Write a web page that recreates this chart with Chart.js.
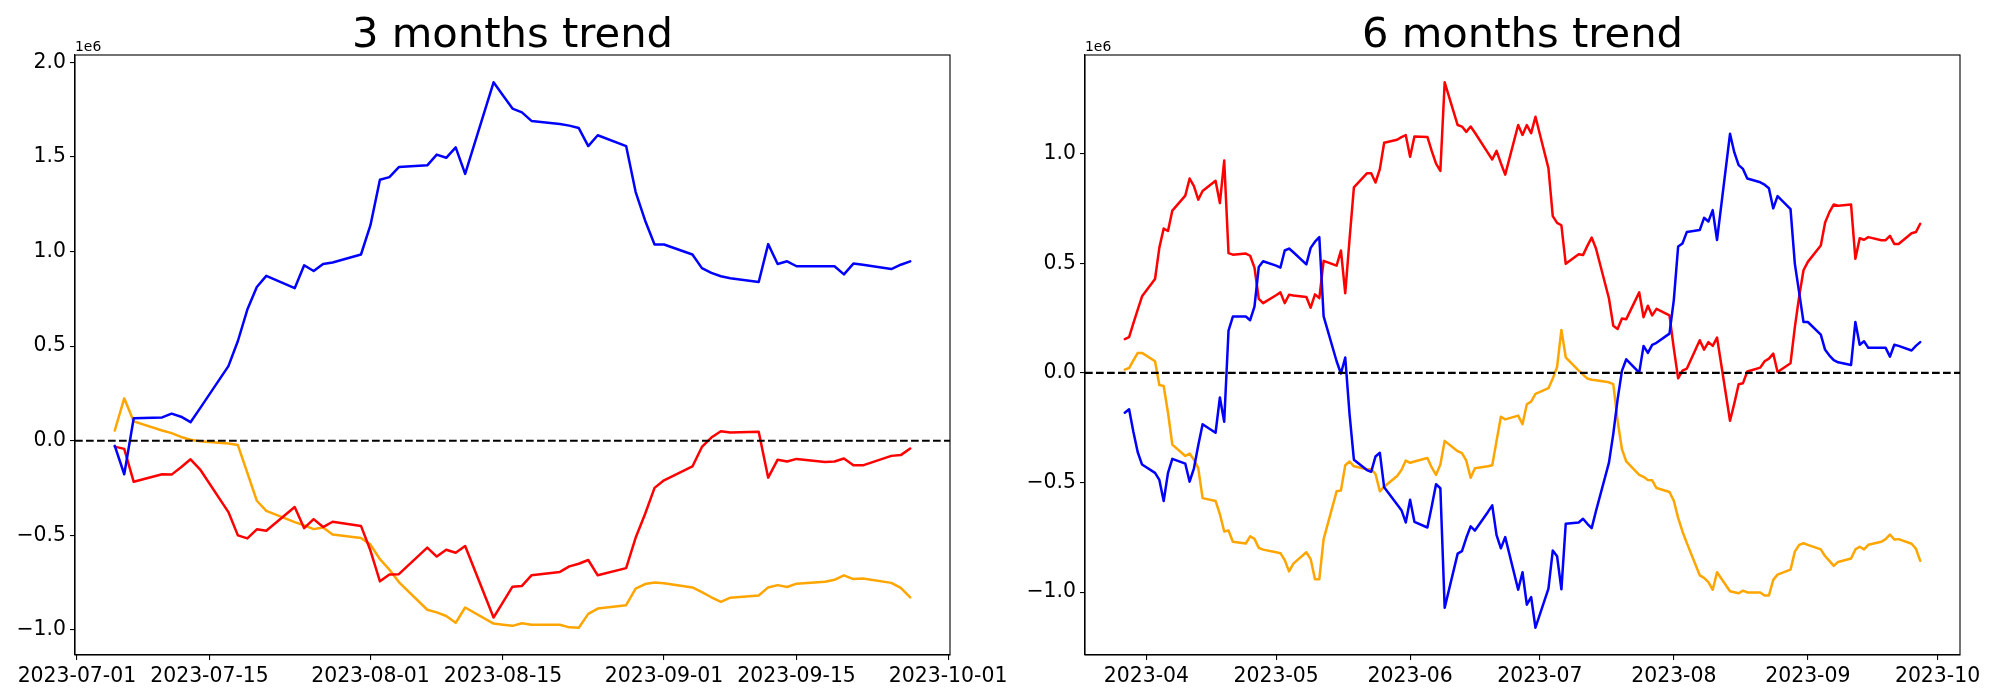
<!DOCTYPE html>
<html>
<head>
<meta charset="utf-8">
<script src="https://cdn.jsdelivr.net/npm/chart.js@4"></script>
<style>
  html, body { margin:0; padding:0; background:#ffffff; width:2000px; height:700px; overflow:hidden; }
  canvas { position:absolute; top:0; }
  #c1 { left:0; }
  #c2 { left:1000px; }
</style>
</head>
<body>
<canvas id="c1" width="1100" height="700"></canvas>
<canvas id="c2" width="1000" height="700"></canvas>
<script>
// ---------------- DATA (values in units of 1e6) ----------------
const leftDates = [
 '2023-07-05','2023-07-06','2023-07-07','2023-07-10','2023-07-11','2023-07-12','2023-07-13','2023-07-14',
 '2023-07-17','2023-07-18','2023-07-19','2023-07-20','2023-07-21','2023-07-24','2023-07-25','2023-07-26',
 '2023-07-27','2023-07-28','2023-07-31',
 '2023-08-01','2023-08-02','2023-08-03','2023-08-04','2023-08-07','2023-08-08','2023-08-09','2023-08-10',
 '2023-08-11','2023-08-14','2023-08-15','2023-08-16','2023-08-17','2023-08-18','2023-08-21','2023-08-22',
 '2023-08-23','2023-08-24','2023-08-25','2023-08-28','2023-08-29','2023-08-30','2023-08-31',
 '2023-09-01','2023-09-04','2023-09-05','2023-09-06','2023-09-07','2023-09-08','2023-09-11','2023-09-12',
 '2023-09-13','2023-09-14','2023-09-15','2023-09-18','2023-09-19','2023-09-20','2023-09-21','2023-09-22',
 '2023-09-25','2023-09-26','2023-09-27'
];
const leftBlue = [
 -0.027,-0.177,0.119,0.123,0.143,0.127,0.098,0.171,0.394,0.527,0.693,0.812,0.871,0.806,0.927,0.897,0.934,0.942,0.984,
 1.139,1.379,1.393,1.446,1.455,1.512,1.495,1.550,1.410,1.894,1.824,1.755,1.735,1.690,1.674,1.665,1.652,1.557,1.614,1.557,1.315,1.164,1.037,
 1.037,0.984,0.912,0.887,0.869,0.859,0.839,1.039,0.934,0.948,0.922,0.922,0.922,0.879,0.936,0.930,0.907,0.930,0.948
];
const leftRed = [
 -0.031,-0.043,-0.217,-0.177,-0.179,-0.140,-0.098,-0.151,-0.377,-0.500,-0.516,-0.468,-0.476,-0.350,-0.462,-0.414,-0.456,-0.428,-0.450,
 -0.580,-0.743,-0.707,-0.705,-0.565,-0.612,-0.576,-0.592,-0.556,-0.934,-0.853,-0.771,-0.767,-0.711,-0.693,-0.664,-0.650,-0.630,-0.711,-0.673,-0.513,-0.387,-0.249,
 -0.209,-0.136,-0.033,0.017,0.050,0.044,0.048,-0.195,-0.100,-0.110,-0.096,-0.112,-0.110,-0.094,-0.130,-0.130,-0.080,-0.076,-0.041
];
const leftOrange = [
 0.054,0.224,0.102,0.054,0.040,0.020,0.005,-0.003,-0.015,-0.023,-0.170,-0.317,-0.371,-0.430,-0.447,-0.467,-0.459,-0.496,-0.514,
 -0.549,-0.626,-0.681,-0.747,-0.893,-0.907,-0.926,-0.962,-0.881,-0.966,-0.972,-0.978,-0.964,-0.972,-0.972,-0.986,-0.988,-0.915,-0.887,-0.869,-0.782,-0.757,-0.749,
 -0.753,-0.775,-0.800,-0.827,-0.851,-0.829,-0.818,-0.775,-0.763,-0.773,-0.755,-0.745,-0.735,-0.711,-0.731,-0.728,-0.751,-0.777,-0.828
];

const rightDates = [
 '2023-03-27','2023-03-28','2023-03-29','2023-03-30','2023-03-31',
 '2023-04-03','2023-04-04','2023-04-05','2023-04-06','2023-04-07','2023-04-10','2023-04-11','2023-04-12','2023-04-13','2023-04-14',
 '2023-04-17','2023-04-18','2023-04-19','2023-04-20','2023-04-21','2023-04-24','2023-04-25','2023-04-26','2023-04-27','2023-04-28',
 '2023-05-01','2023-05-02','2023-05-03','2023-05-04','2023-05-05','2023-05-08','2023-05-09','2023-05-10','2023-05-11','2023-05-12',
 '2023-05-15','2023-05-16','2023-05-17','2023-05-18','2023-05-19','2023-05-22','2023-05-23','2023-05-24','2023-05-25','2023-05-26',
 '2023-05-29','2023-05-30','2023-05-31',
 '2023-06-01','2023-06-02','2023-06-05','2023-06-06','2023-06-07','2023-06-08','2023-06-09','2023-06-12','2023-06-13','2023-06-14',
 '2023-06-15','2023-06-16','2023-06-19','2023-06-20','2023-06-21','2023-06-22','2023-06-23','2023-06-26','2023-06-27','2023-06-28',
 '2023-06-29','2023-06-30',
 '2023-07-03','2023-07-04','2023-07-05','2023-07-06','2023-07-07','2023-07-10','2023-07-11','2023-07-12','2023-07-13','2023-07-14',
 '2023-07-17','2023-07-18','2023-07-19','2023-07-20','2023-07-21','2023-07-24','2023-07-25','2023-07-26','2023-07-27','2023-07-28',
 '2023-07-31',
 '2023-08-01','2023-08-02','2023-08-03','2023-08-04','2023-08-07','2023-08-08','2023-08-09','2023-08-10','2023-08-11','2023-08-14',
 '2023-08-15','2023-08-16','2023-08-17','2023-08-18','2023-08-21','2023-08-22','2023-08-23','2023-08-24','2023-08-25','2023-08-28',
 '2023-08-29','2023-08-30','2023-08-31',
 '2023-09-01','2023-09-04','2023-09-05','2023-09-06','2023-09-07','2023-09-08','2023-09-11','2023-09-12','2023-09-13','2023-09-14',
 '2023-09-15','2023-09-18','2023-09-19','2023-09-20','2023-09-21','2023-09-22','2023-09-25','2023-09-26','2023-09-27'
];
const rightRed = [
 0.154,0.163,0.227,0.288,0.349,
 0.428,0.571,0.658,0.647,0.740,0.808,0.886,0.851,0.790,0.829,
 0.876,0.774,0.968,0.546,0.539,0.544,0.534,0.480,0.337,0.318,
 0.354,0.367,0.318,0.356,0.353,0.346,0.297,0.358,0.341,0.511,
 0.489,0.558,0.363,0.611,0.846,0.910,0.910,0.868,0.929,1.049,
 1.063,1.075,1.084,
 0.985,1.078,1.076,1.012,0.954,0.921,1.325,1.130,1.123,1.099,
 1.123,1.095,1.003,0.973,1.012,0.956,0.904,1.130,1.085,1.130,
 1.093,1.168,
 0.933,0.715,0.684,0.673,0.497,0.541,0.537,0.579,0.617,0.567,
 0.339,0.215,0.200,0.248,0.245,0.367,0.254,0.306,0.262,0.292,
 0.262,
 0.112,-0.025,0.010,0.019,0.149,0.106,0.140,0.123,0.161,-0.218,
 -0.139,-0.052,-0.047,0.006,0.024,0.053,0.065,0.088,0.004,0.044,
 0.209,0.349,0.468,
 0.506,0.581,0.686,0.733,0.768,0.762,0.768,0.520,0.614,0.607,
 0.619,0.605,0.605,0.625,0.588,0.588,0.637,0.642,0.680
];
const rightBlue = [
 -0.182,-0.166,-0.270,-0.362,-0.418,
 -0.456,-0.488,-0.584,-0.456,-0.392,-0.414,-0.496,-0.435,-0.330,-0.234,
 -0.273,-0.112,-0.223,0.193,0.257,0.257,0.240,0.302,0.483,0.509,
 0.489,0.480,0.558,0.567,0.550,0.495,0.570,0.598,0.619,0.258,
 0.053,-0.003,0.070,-0.189,-0.396,-0.443,-0.451,-0.381,-0.364,-0.522,
 -0.600,-0.626,-0.682,
 -0.578,-0.679,-0.705,-0.609,-0.508,-0.526,-1.071,-0.824,-0.813,-0.752,
 -0.700,-0.719,-0.634,-0.604,-0.740,-0.800,-0.749,-0.989,-0.909,-1.057,
 -1.022,-1.162,
 -0.984,-0.810,-0.836,-0.987,-0.688,-0.682,-0.665,-0.688,-0.708,-0.630,
 -0.409,-0.278,-0.121,0.009,0.062,0.001,0.123,0.091,0.128,0.137,
 0.179,
 0.332,0.576,0.590,0.642,0.651,0.707,0.690,0.742,0.606,1.090,
 1.005,0.947,0.930,0.886,0.869,0.858,0.842,0.750,0.806,0.747,
 0.497,0.366,0.232,
 0.232,0.174,0.105,0.079,0.058,0.048,0.036,0.232,0.128,0.144,
 0.114,0.114,0.114,0.074,0.128,0.123,0.102,0.123,0.140
];
const rightOrange = [
 0.015,0.022,0.057,0.091,0.091,
 0.053,-0.055,-0.060,-0.182,-0.327,-0.379,-0.368,-0.396,-0.434,-0.571,
 -0.584,-0.644,-0.723,-0.719,-0.770,-0.778,-0.745,-0.757,-0.798,-0.806,
 -0.818,-0.822,-0.853,-0.905,-0.870,-0.818,-0.849,-0.941,-0.941,-0.758,
 -0.540,-0.536,-0.421,-0.404,-0.426,-0.439,-0.439,-0.461,-0.540,-0.519,
 -0.470,-0.443,-0.400,
 -0.410,-0.404,-0.388,-0.431,-0.465,-0.418,-0.310,-0.357,-0.366,-0.400,
 -0.478,-0.435,-0.426,-0.421,-0.310,-0.200,-0.212,-0.195,-0.234,-0.143,
 -0.131,-0.096,
 -0.070,-0.026,0.027,0.196,0.071,0.010,-0.008,-0.026,-0.031,-0.034,
 -0.043,-0.051,-0.218,-0.348,-0.404,-0.465,-0.474,-0.488,-0.490,-0.525,
 -0.543,
 -0.583,-0.661,-0.723,-0.775,-0.923,-0.935,-0.954,-0.989,-0.909,-0.996,
 -1.000,-1.005,-0.993,-1.001,-1.001,-1.015,-1.015,-0.944,-0.920,-0.897,
 -0.815,-0.784,-0.777,
 -0.784,-0.805,-0.836,-0.857,-0.880,-0.862,-0.846,-0.805,-0.793,-0.805,
 -0.784,-0.770,-0.758,-0.737,-0.760,-0.758,-0.779,-0.801,-0.857
];

const leftXTicks = ['2023-07-01','2023-07-15','2023-08-01','2023-08-15','2023-09-01','2023-09-15','2023-10-01'];
const leftXTickLabels = ['2023-07-01','2023-07-15','2023-08-01','2023-08-15','2023-09-01','2023-09-15','2023-10-01'];
const rightXTicks = ['2023-04-01','2023-05-01','2023-06-01','2023-07-01','2023-08-01','2023-09-01','2023-10-01'];
const rightXTickLabels = ['2023-04','2023-05','2023-06','2023-07','2023-08','2023-09','2023-10'];
const leftYTicks = [-1.0,-0.5,0.0,0.5,1.0,1.5,2.0];
const rightYTicks = [-1.0,-0.5,0.0,0.5,1.0];
const titles = ['3 months trend', '6 months trend'];
const seriesColors = ['#0000ff', '#ff0000', '#ffa500'];

// ---------------- RENDER ----------------
const toDay = s => Date.UTC(+s.slice(0,4), +s.slice(5,7)-1, +s.slice(8,10)) / 86400000;
const FONT = '"DejaVu Sans", "Liberation Sans", sans-serif';
Chart.defaults.font.family = FONT;
Chart.defaults.color = '#000';

const framePlugin = {
  id: 'frame',
  afterDatasetsDraw(chart, args, opts) {
    const ctx = chart.ctx, a = chart.chartArea, y = chart.scales.y;
    ctx.save();
    const y0 = y.getPixelForValue(0);
    ctx.strokeStyle = '#000';
    ctx.lineWidth = 2.08;
    ctx.setLineDash([7.7, 3.3]);
    ctx.beginPath(); ctx.moveTo(a.left, y0); ctx.lineTo(a.right, y0); ctx.stroke();
    ctx.setLineDash([]);
    ctx.lineWidth = 1.1;
    ctx.strokeRect(a.left, a.top, a.right - a.left, a.bottom - a.top);
    ctx.fillStyle = '#000';
    ctx.font = '41.7px ' + FONT;
    ctx.textAlign = 'center';
    ctx.textBaseline = 'alphabetic';
    ctx.fillText(opts.title, (a.left + a.right) / 2, a.top - 8.5);
    ctx.font = '13.9px ' + FONT;
    ctx.textAlign = 'left';
    ctx.fillText('1e6', a.left, a.top - 4);
    ctx.restore();
  }
};

function makeChart(id, dates, blue, red, orange, xt, xtl, yt, title, yWidth, padRight) {
  const xs = dates.map(toDay);
  const mk = vals => vals.map((v, i) => ({ x: xs[i], y: v }));
  const allY = blue.concat(red, orange);
  const ymin = Math.min(...allY), ymax = Math.max(...allY);
  const xmin = Math.min(...xs), xmax = Math.max(...xs);
  const dx = (xmax - xmin) * 0.05, dy = (ymax - ymin) * 0.05;
  const xtv = xt.map(toDay);
  const ds = (data, c) => ({ data, borderColor: c, backgroundColor: c, borderWidth: 2.5, pointRadius: 0, tension: 0, fill: false, borderJoinStyle: 'round', borderCapStyle: 'round' });
  return new Chart(document.getElementById(id), {
    type: 'line',
    data: { datasets: [ds(mk(blue), seriesColors[0]), ds(mk(red), seriesColors[1]), ds(mk(orange), seriesColors[2])] },
    options: {
      responsive: false, animation: false, devicePixelRatio: 1,
      layout: { padding: { top: 55, right: padRight, bottom: 0, left: 0 } },
      plugins: { legend: { display: false }, tooltip: { enabled: false }, title: { display: false }, frame: { title } },
      scales: {
        x: {
          type: 'linear', min: xmin - dx, max: xmax + dx,
          afterBuildTicks: s => { s.ticks = xtv.map(v => ({ value: v })); },
          afterFit: s => { s.height = 45; },
          ticks: { autoSkip: false, maxRotation: 0, minRotation: 0, padding: 4, color: '#000',
                   font: { size: 20.4, family: FONT },
                   callback: (v, i) => xtl[i] },
          grid: { display: true, drawOnChartArea: false, drawTicks: true, tickLength: 5, color: '#000', lineWidth: 1.1 },
          border: { display: true, color: '#000', width: 1.1 }
        },
        y: {
          type: 'linear', min: ymin - dy, max: ymax + dy,
          afterBuildTicks: s => { s.ticks = yt.map(v => ({ value: v })); },
          afterFit: s => { s.width = yWidth; },
          ticks: { padding: 4, color: '#000', font: { size: 20.4, family: FONT },
                   callback: v => v.toFixed(1).replace('-', '\u2212') },
          grid: { display: true, drawOnChartArea: false, drawTicks: true, tickLength: 5, color: '#000', lineWidth: 1.1 },
          border: { display: true, color: '#000', width: 1.1 }
        }
      }
    },
    plugins: [framePlugin]
  });
}

makeChart('c1', leftDates, leftBlue, leftRed, leftOrange, leftXTicks, leftXTickLabels, leftYTicks, titles[0], 75, 150);
makeChart('c2', rightDates, rightBlue, rightRed, rightOrange, rightXTicks, rightXTickLabels, rightYTicks, titles[1], 85, 40);
</script>
</body>
</html>
